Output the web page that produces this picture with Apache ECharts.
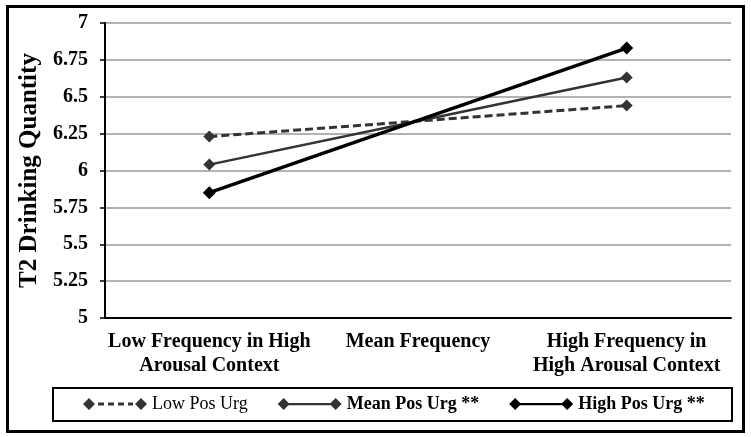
<!DOCTYPE html>
<html>
<head>
<meta charset="utf-8">
<script src="https://cdn.jsdelivr.net/npm/echarts@6/dist/echarts.min.js"></script>
<style>html,body{margin:0;padding:0;background:#fff}#c{width:751px;height:437px}</style>
</head>
<body>
<div id="c"></div>
<script>
const categories = ['Low Frequency in High\nArousal Context', 'Mean Frequency', 'High Frequency in\nHigh Arousal Context'];
const lowPosUrg = [6.23, 6.335, 6.44];
const meanPosUrg = [6.04, 6.335, 6.63];
const highPosUrg = [5.85, 6.34, 6.83];
const seriesNames = ['Low Pos Urg', 'Mean Pos Urg **', 'High Pos Urg **'];
// markers are drawn only at the two end categories
const markerShown = [true, false, true];

const font = '"Liberation Serif", "Times New Roman", serif';
const solidIcon = 'path://M0 6L6 0L12 6L6 12ZM11 5L53 5L53 7.2L11 7.2ZM52 6L58 0L64 6L58 12Z';
const dashIcon = 'path://M0 6L6 0L12 6L6 12ZM15 4.6L21 4.6L21 7.4L15 7.4ZM25 4.6L31 4.6L31 7.4L25 7.4ZM35 4.6L41 4.6L41 7.4L35 7.4ZM45 4.6L50 4.6L50 7.4L45 7.4ZM52 6L58 0L64 6L58 12Z';

function withMarkers(values) {
  return values.map((v, i) => markerShown[i] ? v : { value: v, symbol: 'none' });
}

const chart = echarts.init(document.getElementById('c'));
chart.setOption({
  animation: false,
  backgroundColor: '#fff',
  grid: { left: 105, right: 20, top: 23, bottom: 119 },
  graphic: [
    { type: 'rect', shape: { x: 7.5, y: 6.5, width: 736, height: 425 }, style: { fill: 'none', stroke: '#000', lineWidth: 3 }, z: 10 },
    { type: 'rect', shape: { x: 53, y: 388, width: 679, height: 33 }, style: { fill: 'none', stroke: '#000', lineWidth: 2 }, z: 10 }
  ],
  legend: {
    left: 83, top: 395, padding: 0,
    itemWidth: 64, itemHeight: 12, itemGap: 30,
    itemStyle: { borderWidth: 0 },
    textStyle: { fontFamily: font, fontSize: 18, color: '#000' },
    data: [
      { name: seriesNames[0], icon: dashIcon, textStyle: { fontWeight: 'normal' } },
      { name: seriesNames[1], icon: solidIcon, textStyle: { fontWeight: 'bold' } },
      { name: seriesNames[2], icon: solidIcon, textStyle: { fontWeight: 'bold' } }
    ]
  },
  xAxis: {
    type: 'category',
    data: categories,
    boundaryGap: true,
    axisLine: { lineStyle: { color: '#000', width: 2 } },
    axisTick: { alignWithLabel: true, length: 5, lineStyle: { color: '#000', width: 1.5 } },
    axisLabel: { fontFamily: font, fontSize: 20, fontWeight: 'bold', color: '#000', lineHeight: 24, margin: 12, interval: 0 }
  },
  yAxis: {
    type: 'value',
    min: 5, max: 7, interval: 0.25,
    name: 'T2 Drinking Quantity',
    nameLocation: 'middle',
    nameGap: 61,
    nameTextStyle: { fontFamily: font, fontSize: 25, fontWeight: 'bold', color: '#000' },
    axisLine: { show: true, lineStyle: { color: '#000', width: 2 } },
    axisTick: { show: true, length: 5, lineStyle: { color: '#000', width: 1.5 } },
    axisLabel: { fontFamily: font, fontSize: 20, fontWeight: 'bold', color: '#000', margin: 17 },
    splitLine: { lineStyle: { color: '#999', width: 1.5 } }
  },
  series: [
    { name: seriesNames[0], type: 'line', data: withMarkers(lowPosUrg), symbol: 'diamond', symbolSize: 12,
      itemStyle: { color: '#333' }, lineStyle: { color: '#333', width: 3, type: [8, 4] }, z: 3 },
    { name: seriesNames[1], type: 'line', data: withMarkers(meanPosUrg), symbol: 'diamond', symbolSize: 12,
      itemStyle: { color: '#333' }, lineStyle: { color: '#333', width: 2.5 }, z: 4 },
    { name: seriesNames[2], type: 'line', data: withMarkers(highPosUrg), symbol: 'diamond', symbolSize: 13,
      itemStyle: { color: '#000' }, lineStyle: { color: '#000', width: 3.5 }, z: 5 }
  ]
});
</script>
</body>
</html>
